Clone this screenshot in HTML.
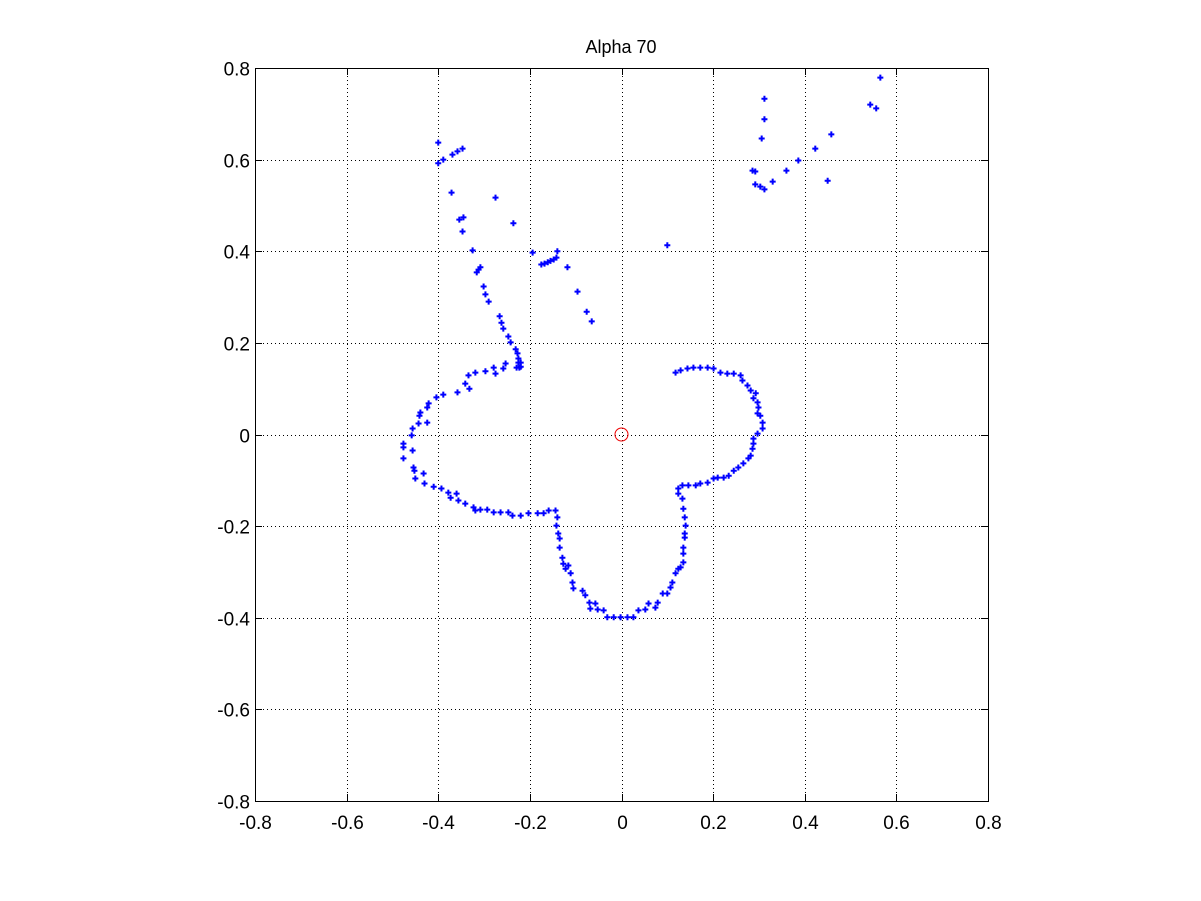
<!DOCTYPE html>
<html><head><meta charset="utf-8"><style>
html,body{margin:0;padding:0;background:#fff;}
svg{display:block;font-family:"Liberation Sans",Arial,sans-serif;}
</style></head><body>
<svg id="chart" width="1201" height="901" viewBox="0 0 1201 901">
<rect x="0" y="0" width="1201" height="901" fill="#fff"/>
<text x="621" y="53" text-anchor="middle" font-size="18">Alpha 70</text>
<g id="grid"></g>
<rect x="255.5" y="68.5" width="733" height="733" fill="none" stroke="#000" stroke-width="1"/>
<g id="ticks"></g>
<g id="points"></g>
<circle id="origin" r="6.5" fill="none" stroke="#e00" stroke-width="1"/>
</svg>
<script>
const xTicks=[-0.8,-0.6,-0.4,-0.2,0,0.2,0.4,0.6,0.8];
const yTicks=[-0.8,-0.6,-0.4,-0.2,0,0.2,0.4,0.6,0.8];
const tickLabels=["-0.8","-0.6","-0.4","-0.2","0","0.2","0.4","0.6","0.8"];
const xs=[-0.40,-0.40,-0.389,-0.369,-0.358,-0.347,-0.371,-0.275,-0.354,-0.345,-0.236,-0.347,-0.325,-0.194,-0.316,-0.312,-0.308,-0.175,-0.168,-0.161,-0.155,-0.148,-0.142,-0.140,-0.118,-0.096,-0.076,-0.065,-0.301,-0.297,-0.290,-0.266,-0.262,-0.258,-0.247,-0.242,-0.231,-0.227,-0.225,-0.220,-0.220,-0.223,
-0.225,-0.229,-0.253,-0.258,-0.279,-0.275,-0.297,-0.319,-0.334,-0.341,-0.332,-0.358,-0.389,-0.404,-0.421,-0.424,-0.439,-0.441,-0.424,-0.443,-0.456,-0.458,-0.476,-0.476,-0.456,-0.476,-0.454,-0.452,-0.450,-0.432,-0.430,-0.410,-0.393,-0.378,-0.373,-0.360,-0.356,-0.341,-0.323,-0.319,-0.308,-0.293,-0.279,-0.264,-0.247,-0.238,-0.220,-0.203,-0.183,-0.170,-0.159,-0.144,-0.140,-0.142,-0.138,-0.135,-0.135,-0.129,-0.127,-0.122,-0.116,-0.111,-0.107,-0.105,-0.085,-0.079,-0.070,-0.057,-0.068,-0.052,-0.039,-0.031,-0.017,-0.002,0.013,0.026,0.037,0.052,0.059,0.074,0.079,0.090,0.100,0.107,0.111,0.118,0.124,0.129,0.135,0.135,0.135,0.138,0.138,0.140,0.138,0.135,0.133,0.124,0.124,0.133,0.146,0.162,0.172,0.188,0.201,0.210,0.223,0.234,0.245,0.255,0.266,0.277,0.282,0.286,0.288,0.288,0.297,0.308,0.308,0.303,0.297,0.299,0.297,0.288,0.293,0.282,0.275,0.264,0.260,0.245,0.231,0.216,0.201,0.188,0.172,0.157,0.144,0.129,0.118,
0.565,0.543,0.556,0.458,0.450,0.423,0.386,0.360,0.330,0.312,0.303,0.292,0.286,0.292,0.306,0.312,0.312,0.100];
const ys=[0.637,0.592,0.600,0.611,0.618,0.624,0.528,0.517,0.469,0.474,0.461,0.443,0.402,0.397,0.354,0.360,0.365,0.371,0.373,0.376,0.379,0.382,0.386,0.400,0.365,0.312,0.268,0.247,0.323,0.306,0.290,0.258,0.244,0.231,0.214,0.201,0.186,0.177,0.166,0.157,0.148,0.146,
0.157,0.146,0.155,0.144,0.146,0.133,0.138,0.135,0.129,0.111,0.100,0.092,0.087,0.081,0.068,0.059,0.048,0.041,0.026,0.024,0.013,-0.002,-0.020,-0.028,-0.035,-0.052,-0.072,-0.079,-0.096,-0.085,-0.107,-0.114,-0.118,-0.127,-0.138,-0.129,-0.144,-0.151,-0.159,-0.166,-0.164,-0.164,-0.170,-0.170,-0.170,-0.177,-0.177,-0.172,-0.172,-0.172,-0.166,-0.166,-0.181,-0.199,-0.216,-0.227,-0.247,-0.269,-0.282,-0.293,-0.286,-0.303,-0.323,-0.336,-0.341,-0.351,-0.367,-0.369,-0.380,-0.382,-0.384,-0.399,-0.399,-0.399,-0.399,-0.399,-0.384,-0.382,-0.369,-0.378,-0.367,-0.347,-0.347,-0.334,-0.323,-0.303,-0.293,-0.290,-0.279,-0.260,-0.247,-0.225,-0.216,-0.199,-0.181,-0.162,-0.140,-0.129,-0.118,-0.111,-0.111,-0.111,-0.107,-0.105,-0.096,-0.094,-0.094,-0.090,-0.079,-0.072,-0.063,-0.052,-0.046,-0.031,-0.020,-0.009,0.002,0.013,0.026,0.041,0.046,0.059,0.070,0.079,0.090,0.096,0.107,0.118,0.129,0.133,0.133,0.135,0.144,0.146,0.146,0.146,0.144,0.140,0.135,
0.779,0.720,0.712,0.655,0.554,0.624,0.598,0.576,0.552,0.535,0.541,0.546,0.576,0.574,0.646,0.688,0.733,0.413];
const NS="http://www.w3.org/2000/svg";
const L=255,T=68,W=733,H=733;
function sx(v){return L+(v+0.8)/1.6*W;}
function sy(v){return T+(0.8-v)/1.6*H;}
const grid=document.getElementById('grid'),ticks=document.getElementById('ticks'),pts=document.getElementById('points');
function line(g,x1,y1,x2,y2,st,da){const l=document.createElementNS(NS,'line');l.setAttribute('x1',x1);l.setAttribute('y1',y1);l.setAttribute('x2',x2);l.setAttribute('y2',y2);l.setAttribute('stroke',st);l.setAttribute('stroke-width',1);if(da)l.setAttribute('stroke-dasharray',da);g.appendChild(l);return l;}
xTicks.forEach((v,i)=>{const x=Math.round(sx(v))+0.5;
 if(i>0&&i<xTicks.length-1){const g=line(grid,x,T,x,T+H,'#000','1,3');}
 line(ticks,x,T+H,x,T+H-7,'#000');line(ticks,x,T,x,T+7,'#000');
 const t=document.createElementNS(NS,'text');t.setAttribute('x',x);t.setAttribute('y',T+H+28);t.setAttribute('text-anchor','middle');t.setAttribute('font-size','19');t.textContent=tickLabels[i];
 
 
 ticks.appendChild(t);});
yTicks.forEach((v,i)=>{const y=Math.round(sy(v))+0.5;
 if(i>0&&i<yTicks.length-1){const g=line(grid,L,y,L+W,y,'#000','1,3');}
 line(ticks,L,y,L+7,y,'#000');line(ticks,L+W,y,L+W-7,y,'#000');
 const t=document.createElementNS(NS,'text');t.setAttribute('x',L-5);t.setAttribute('y',y+7);t.setAttribute('text-anchor','end');t.setAttribute('font-size','19');t.textContent=tickLabels[i];
 
 
 ticks.appendChild(t);});
for(let i=0;i<xs.length;i++){const x=sx(xs[i]),y=sy(ys[i]);
 const p=document.createElementNS(NS,'path');
 p.setAttribute('d',`M${x-1},${y-3}h2v2h2v2h-2v2h-2v-2h-2v-2h2z`);
 p.setAttribute('fill','#0000ff');
 
 
 pts.appendChild(p);}
const o=document.getElementById('origin');o.setAttribute('cx',sx(0));o.setAttribute('cy',sy(0));
</script>
</body></html>
